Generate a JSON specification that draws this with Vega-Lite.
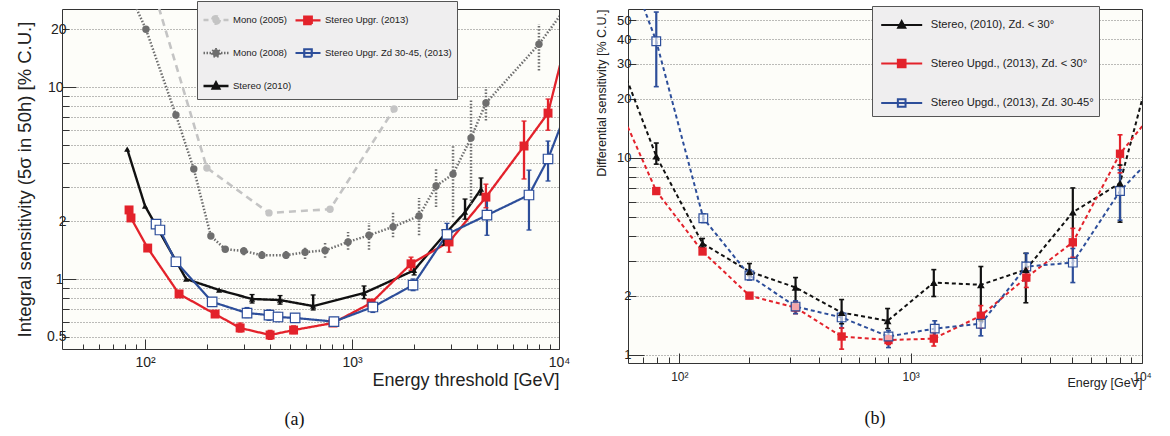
{
  "$schema": "https://vega.github.io/schema/vega-lite/v6.json",
  "background": "white",
  "padding": {"left": 15, "right": 0, "top": 0, "bottom": 0},
  "config": {
    "font": "Liberation Sans",
    "view": {"stroke": "#333333", "strokeWidth": 1, "fill": "#fdfdf9"},
    "axis": {"domain": false, "labelColor": "#222222", "titleColor": "#222222", "tickColor": "#333333", "gridColor": "#555555", "gridDash": [1, 2], "gridWidth": 0.8, "titleFontWeight": "normal", "labelFlush": false, "labelOverlap": false}
  },
  "resolve": {"scale": {"color": "independent", "stroke": "independent", "fill": "independent", "shape": "independent", "strokeDash": "independent", "strokeWidth": "independent"}},
  "spacing": 24,
  "datasets": {
    "a": [
      {"s": "Mono (2005)", "e": 100, "v": 45},
      {"s": "Mono (2005)", "e": 199, "v": 3.79},
      {"s": "Mono (2005)", "e": 397, "v": 2.21},
      {"s": "Mono (2005)", "e": 783, "v": 2.31},
      {"s": "Mono (2005)", "e": 1596, "v": 7.68},
      {"s": "Mono (2008)", "e": 87, "v": 28.5},
      {"s": "Mono (2008)", "e": 101, "v": 20},
      {"s": "Mono (2008)", "e": 141, "v": 7.15},
      {"s": "Mono (2008)", "e": 172, "v": 3.74},
      {"s": "Mono (2008)", "e": 208, "v": 1.675},
      {"s": "Mono (2008)", "e": 244, "v": 1.43},
      {"s": "Mono (2008)", "e": 300, "v": 1.4, "lo": 1.33, "hi": 1.47},
      {"s": "Mono (2008)", "e": 367, "v": 1.33, "lo": 1.27, "hi": 1.4},
      {"s": "Mono (2008)", "e": 480, "v": 1.33, "lo": 1.27, "hi": 1.4},
      {"s": "Mono (2008)", "e": 593, "v": 1.38, "lo": 1.27, "hi": 1.47},
      {"s": "Mono (2008)", "e": 741, "v": 1.41, "lo": 1.29, "hi": 1.54},
      {"s": "Mono (2008)", "e": 957, "v": 1.56, "lo": 1.42, "hi": 1.76},
      {"s": "Mono (2008)", "e": 1208, "v": 1.69, "lo": 1.42, "hi": 1.96},
      {"s": "Mono (2008)", "e": 1578, "v": 1.87, "lo": 1.65, "hi": 2.26},
      {"s": "Mono (2008)", "e": 2108, "v": 2.13, "lo": 1.69, "hi": 2.64},
      {"s": "Mono (2008)", "e": 2547, "v": 3.05, "lo": 2.37, "hi": 3.78},
      {"s": "Mono (2008)", "e": 3076, "v": 3.52, "lo": 2.1, "hi": 4.98},
      {"s": "Mono (2008)", "e": 3757, "v": 5.43, "lo": 2.45, "hi": 8.55},
      {"s": "Mono (2008)", "e": 4436, "v": 8.26, "lo": 6.7, "hi": 10.0},
      {"s": "Mono (2008)", "e": 8000, "v": 16.7, "lo": 12.2, "hi": 21.3},
      {"s": "Mono (2008)", "e": 11500, "v": 28.4},
      {"s": "Stereo (2010)", "e": 82, "v": 4.75},
      {"s": "Stereo (2010)", "e": 100, "v": 2.4},
      {"s": "Stereo (2010)", "e": 158, "v": 1.0},
      {"s": "Stereo (2010)", "e": 228, "v": 0.877},
      {"s": "Stereo (2010)", "e": 329, "v": 0.787, "lo": 0.75, "hi": 0.83},
      {"s": "Stereo (2010)", "e": 449, "v": 0.777, "lo": 0.74, "hi": 0.82},
      {"s": "Stereo (2010)", "e": 649, "v": 0.723, "lo": 0.69, "hi": 0.826},
      {"s": "Stereo (2010)", "e": 1143, "v": 0.845, "lo": 0.79, "hi": 0.92},
      {"s": "Stereo (2010)", "e": 1995, "v": 1.11, "lo": 1.05, "hi": 1.15},
      {"s": "Stereo (2010)", "e": 2780, "v": 1.69, "lo": 1.5, "hi": 1.8},
      {"s": "Stereo (2010)", "e": 3516, "v": 2.23, "lo": 2.05, "hi": 2.61},
      {"s": "Stereo (2010)", "e": 4200, "v": 2.94, "lo": 2.74, "hi": 3.36},
      {"s": "Stereo Upgr. (2013)", "e": 83.7, "v": 2.29},
      {"s": "Stereo Upgr. (2013)", "e": 85.5, "v": 2.08},
      {"s": "Stereo Upgr. (2013)", "e": 103, "v": 1.45},
      {"s": "Stereo Upgr. (2013)", "e": 146, "v": 0.836},
      {"s": "Stereo Upgr. (2013)", "e": 218, "v": 0.657},
      {"s": "Stereo Upgr. (2013)", "e": 288, "v": 0.556, "lo": 0.53, "hi": 0.59},
      {"s": "Stereo Upgr. (2013)", "e": 402, "v": 0.511, "lo": 0.485, "hi": 0.54},
      {"s": "Stereo Upgr. (2013)", "e": 522, "v": 0.542, "lo": 0.52, "hi": 0.57},
      {"s": "Stereo Upgr. (2013)", "e": 809, "v": 0.59, "lo": 0.575, "hi": 0.61},
      {"s": "Stereo Upgr. (2013)", "e": 1236, "v": 0.75, "lo": 0.72, "hi": 0.78},
      {"s": "Stereo Upgr. (2013)", "e": 1928, "v": 1.2, "lo": 1.11, "hi": 1.3},
      {"s": "Stereo Upgr. (2013)", "e": 2943, "v": 1.56, "lo": 1.38, "hi": 1.76},
      {"s": "Stereo Upgr. (2013)", "e": 4436, "v": 2.67, "lo": 2.35, "hi": 3.12},
      {"s": "Stereo Upgr. (2013)", "e": 6776, "v": 4.93, "lo": 3.32, "hi": 6.65},
      {"s": "Stereo Upgr. (2013)", "e": 8851, "v": 7.32, "lo": 5.96, "hi": 8.66},
      {"s": "Stereo Upgr. (2013)", "e": 11500, "v": 22.6},
      {"s": "Stereo Upgr. Zd 30-45, (2013)", "e": 113, "v": 1.93},
      {"s": "Stereo Upgr. Zd 30-45, (2013)", "e": 118, "v": 1.8},
      {"s": "Stereo Upgr. Zd 30-45, (2013)", "e": 141, "v": 1.23},
      {"s": "Stereo Upgr. Zd 30-45, (2013)", "e": 211, "v": 0.76},
      {"s": "Stereo Upgr. Zd 30-45, (2013)", "e": 311, "v": 0.665, "lo": 0.63, "hi": 0.71},
      {"s": "Stereo Upgr. Zd 30-45, (2013)", "e": 397, "v": 0.649, "lo": 0.61, "hi": 0.69},
      {"s": "Stereo Upgr. Zd 30-45, (2013)", "e": 439, "v": 0.634, "lo": 0.6, "hi": 0.67},
      {"s": "Stereo Upgr. Zd 30-45, (2013)", "e": 531, "v": 0.627, "lo": 0.6, "hi": 0.66},
      {"s": "Stereo Upgr. Zd 30-45, (2013)", "e": 818, "v": 0.6, "lo": 0.58, "hi": 0.63},
      {"s": "Stereo Upgr. Zd 30-45, (2013)", "e": 1261, "v": 0.715, "lo": 0.67, "hi": 0.76},
      {"s": "Stereo Upgr. Zd 30-45, (2013)", "e": 1972, "v": 0.93, "lo": 0.87, "hi": 1.0},
      {"s": "Stereo Upgr. Zd 30-45, (2013)", "e": 2877, "v": 1.71, "lo": 1.55, "hi": 1.95},
      {"s": "Stereo Upgr. Zd 30-45, (2013)", "e": 4487, "v": 2.15, "lo": 1.69, "hi": 2.58},
      {"s": "Stereo Upgr. Zd 30-45, (2013)", "e": 7160, "v": 2.74, "lo": 1.8, "hi": 3.69},
      {"s": "Stereo Upgr. Zd 30-45, (2013)", "e": 8851, "v": 4.22, "lo": 3.24, "hi": 5.23},
      {"s": "Stereo Upgr. Zd 30-45, (2013)", "e": 11500, "v": 8.8}
    ],
    "b": [
      {"s": "Stereo, (2010), Zd. < 30°", "e": 55, "v": 31.6},
      {"s": "Stereo, (2010), Zd. < 30°", "e": 79.5, "v": 10.2, "lo": 9.3, "hi": 11.9},
      {"s": "Stereo, (2010), Zd. < 30°", "e": 126, "v": 3.68, "lo": 3.5, "hi": 3.9},
      {"s": "Stereo, (2010), Zd. < 30°", "e": 201, "v": 2.65, "lo": 2.53, "hi": 2.91},
      {"s": "Stereo, (2010), Zd. < 30°", "e": 318, "v": 2.2, "lo": 1.84, "hi": 2.47},
      {"s": "Stereo, (2010), Zd. < 30°", "e": 503, "v": 1.64, "lo": 1.44, "hi": 1.91},
      {"s": "Stereo, (2010), Zd. < 30°", "e": 795, "v": 1.49, "lo": 1.36, "hi": 1.72},
      {"s": "Stereo, (2010), Zd. < 30°", "e": 1259, "v": 2.33, "lo": 1.98, "hi": 2.71},
      {"s": "Stereo, (2010), Zd. < 30°", "e": 2011, "v": 2.27, "lo": 1.49, "hi": 2.81},
      {"s": "Stereo, (2010), Zd. < 30°", "e": 3147, "v": 2.71, "lo": 1.84, "hi": 3.28},
      {"s": "Stereo, (2010), Zd. < 30°", "e": 5023, "v": 5.3, "lo": 3.68, "hi": 7.04},
      {"s": "Stereo, (2010), Zd. < 30°", "e": 8035, "v": 7.45, "lo": 4.72, "hi": 9.2},
      {"s": "Stereo, (2010), Zd. < 30°", "e": 11000, "v": 30},
      {"s": "Stereo Upgd., (2013), Zd. < 30°", "e": 55, "v": 18},
      {"s": "Stereo Upgd., (2013), Zd. < 30°", "e": 79.5, "v": 6.79},
      {"s": "Stereo Upgd., (2013), Zd. < 30°", "e": 126, "v": 3.35},
      {"s": "Stereo Upgd., (2013), Zd. < 30°", "e": 201, "v": 2.0},
      {"s": "Stereo Upgd., (2013), Zd. < 30°", "e": 318, "v": 1.74, "lo": 1.62, "hi": 1.86},
      {"s": "Stereo Upgd., (2013), Zd. < 30°", "e": 503, "v": 1.24, "lo": 1.07, "hi": 1.37},
      {"s": "Stereo Upgd., (2013), Zd. < 30°", "e": 802, "v": 1.19, "lo": 1.13, "hi": 1.25},
      {"s": "Stereo Upgd., (2013), Zd. < 30°", "e": 1259, "v": 1.21, "lo": 1.11, "hi": 1.3},
      {"s": "Stereo Upgd., (2013), Zd. < 30°", "e": 2011, "v": 1.58, "lo": 1.37, "hi": 1.78},
      {"s": "Stereo Upgd., (2013), Zd. < 30°", "e": 3162, "v": 2.47, "lo": 2.2, "hi": 2.74},
      {"s": "Stereo Upgd., (2013), Zd. < 30°", "e": 5023, "v": 3.73, "lo": 3.13, "hi": 4.39},
      {"s": "Stereo Upgd., (2013), Zd. < 30°", "e": 8035, "v": 10.5, "lo": 8.4, "hi": 13.1},
      {"s": "Stereo Upgd., (2013), Zd. < 30°", "e": 11000, "v": 16.6},
      {"s": "Stereo Upgd., (2013), Zd. 30-45°", "e": 55, "v": 125},
      {"s": "Stereo Upgd., (2013), Zd. 30-45°", "e": 79.5, "v": 39.1, "lo": 23.0, "hi": 55},
      {"s": "Stereo Upgd., (2013), Zd. 30-45°", "e": 127, "v": 4.94, "lo": 4.7, "hi": 5.2},
      {"s": "Stereo Upgd., (2013), Zd. 30-45°", "e": 201, "v": 2.53, "lo": 2.4, "hi": 2.7},
      {"s": "Stereo Upgd., (2013), Zd. 30-45°", "e": 318, "v": 1.76, "lo": 1.62, "hi": 1.88},
      {"s": "Stereo Upgd., (2013), Zd. 30-45°", "e": 503, "v": 1.55, "lo": 1.37, "hi": 1.64},
      {"s": "Stereo Upgd., (2013), Zd. 30-45°", "e": 802, "v": 1.24, "lo": 1.09, "hi": 1.33},
      {"s": "Stereo Upgd., (2013), Zd. 30-45°", "e": 1271, "v": 1.36, "lo": 1.25, "hi": 1.49},
      {"s": "Stereo Upgd., (2013), Zd. 30-45°", "e": 2011, "v": 1.44, "lo": 1.25, "hi": 1.64},
      {"s": "Stereo Upgd., (2013), Zd. 30-45°", "e": 3162, "v": 2.81, "lo": 2.38, "hi": 3.28},
      {"s": "Stereo Upgd., (2013), Zd. 30-45°", "e": 5023, "v": 2.94, "lo": 2.33, "hi": 3.47},
      {"s": "Stereo Upgd., (2013), Zd. 30-45°", "e": 8035, "v": 6.79, "lo": 4.83, "hi": 8.7},
      {"s": "Stereo Upgd., (2013), Zd. 30-45°", "e": 11000, "v": 10.0}
    ]
  },
  "hconcat": [
    {
      "width": 497,
      "height": 340,
      "data": {"name": "a"},
      "title": {"text": "(a)", "orient": "bottom", "font": "Liberation Serif", "fontSize": 18, "fontWeight": "normal", "color": "#111111", "offset": 22, "dx": -16},
      "encoding": {
        "x": {"field": "e", "type": "quantitative", "scale": {"type": "log", "domain": [39.7, 10000], "nice": false},
          "axis": {"title": "Energy threshold [GeV]", "titleFontSize": 18, "titleAnchor": "end", "titlePadding": -3,
            "values": [50, 60, 70, 80, 90, 100, 200, 300, 400, 500, 600, 700, 800, 900, 1000, 2000, 3000, 4000, 5000, 6000, 7000, 8000, 9000, 10000],
            "labelExpr": "datum.value==100?'10²':datum.value==1000?'10³':datum.value==10000?'10⁴':''",
            "labelFontSize": 14, "labelPadding": 16, "grid": false,
            "tickSize": {"condition": {"test": "datum.value==100||datum.value==1000||datum.value==10000", "value": -10}, "value": -5}}},
        "y": {"field": "v", "type": "quantitative", "scale": {"type": "log", "domain": [0.432, 25.5], "nice": false},
          "axis": {"title": "Integral sensitivity (5σ in 50h) [% C.U.]", "titleFontSize": 18.5, "titlePadding": 12,
            "values": [0.5, 0.6, 0.7, 0.8, 0.9, 1, 2, 3, 4, 5, 6, 7, 8, 9, 10, 20],
            "labelExpr": "indexof([0.5,1,2,10,20], datum.value) >= 0 ? format(datum.value, '~g') : ''",
            "labelFontSize": 14, "labelPadding": {"condition": {"test": "datum.value==1||datum.value==10", "value": 13}, "value": 3}, "grid": true,
            "tickSize": {"condition": {"test": "datum.value==1||datum.value==10", "value": -14}, "value": -7}}}
      },
      "layer": [
        {
          "transform": [{"filter": "false"}],
          "mark": {"type": "point", "opacity": 1},
          "encoding": {
            "shape": {"field": "s", "type": "nominal",
              "scale": {"domain": ["Mono (2005)", "Mono (2008)", "Stereo (2010)", "Stereo Upgr. (2013)", "Stereo Upgr. Zd 30-45, (2013)"],
                "range": ["M-1,0H-0.6M0.6,0H1M0.3,0A0.3,0.3,0,1,1,-0.3,0A0.3,0.3,0,1,1,0.3,0Z", "M-1,0H-0.88M-0.76,0H-0.64M-0.52,0H-0.4M0.4,0H0.52M0.64,0H0.76M0.88,0H1M0.3,0A0.3,0.3,0,1,1,-0.3,0A0.3,0.3,0,1,1,0.3,0Z", "M-1,0H1M0,-0.28L0.26,0.2H-0.26Z", "M-1,0H1M-0.3,-0.3H0.3V0.3H-0.3Z", "M-1,0H1M-0.3,-0.3H0.3V0.3H-0.3Z"]},
              "legend": {"disable": false, "title": null, "orient": "none", "legendX": 135, "legendY": -8, "columns": 2, "symbolSize": 625, "symbolStrokeWidth": 1.5, "symbolOpacity": 1, "labelFontSize": 9.5, "labelColor": "#222222", "labelOffset": 3, "labelLimit": 300, "padding": 5, "rowPadding": 10, "columnPadding": -2, "fillColor": "#efeeef", "strokeColor": "#555555"}},
            "stroke": {"field": "s", "type": "nominal",
              "scale": {"domain": ["Mono (2005)", "Mono (2008)", "Stereo (2010)", "Stereo Upgr. (2013)", "Stereo Upgr. Zd 30-45, (2013)"],
                "range": ["#c4c4c4", "#6e6e6e", "#111111", "#e3222b", "#2d4e9a"]},
              "legend": {"disable": false, "title": null, "orient": "none", "legendX": 135, "legendY": -8, "columns": 2, "symbolSize": 625, "symbolStrokeWidth": 1.5, "symbolOpacity": 1, "labelFontSize": 9.5, "labelColor": "#222222", "labelOffset": 3, "labelLimit": 300, "padding": 5, "rowPadding": 10, "columnPadding": -2, "fillColor": "#efeeef", "strokeColor": "#555555"}},
            "fill": {"field": "s", "type": "nominal",
              "scale": {"domain": ["Mono (2005)", "Mono (2008)", "Stereo (2010)", "Stereo Upgr. (2013)", "Stereo Upgr. Zd 30-45, (2013)"],
                "range": ["#c4c4c4", "#6e6e6e", "#111111", "#e3222b", "transparent"]},
              "legend": {"disable": false, "title": null, "orient": "none", "legendX": 135, "legendY": -8, "columns": 2, "symbolSize": 625, "symbolStrokeWidth": 1.5, "symbolOpacity": 1, "labelFontSize": 9.5, "labelColor": "#222222", "labelOffset": 3, "labelLimit": 300, "padding": 5, "rowPadding": 10, "columnPadding": -2, "fillColor": "#efeeef", "strokeColor": "#555555"}}
          }
        },
        {
          "mark": {"type": "line", "clip": true},
          "encoding": {
            "color": {"field": "s", "type": "nominal", "legend": null, "scale": {"domain": ["Mono (2005)", "Mono (2008)", "Stereo (2010)", "Stereo Upgr. (2013)", "Stereo Upgr. Zd 30-45, (2013)"], "range": ["#c4c4c4", "#6e6e6e", "#111111", "#e3222b", "#2d4e9a"]}},
            "strokeDash": {"field": "s", "type": "nominal", "legend": null, "scale": {"domain": ["Mono (2005)", "Mono (2008)", "Stereo (2010)", "Stereo Upgr. (2013)", "Stereo Upgr. Zd 30-45, (2013)"], "range": [[7, 5], [1.5, 1.8], [1, 0], [1, 0], [1, 0]]}},
            "strokeWidth": {"field": "s", "type": "nominal", "legend": null, "scale": {"domain": ["Mono (2005)", "Mono (2008)", "Stereo (2010)", "Stereo Upgr. (2013)", "Stereo Upgr. Zd 30-45, (2013)"], "range": [2.6, 2.2, 1.5, 1.6, 1.4]}}
          }
        },
        {
          "transform": [{"filter": "isValid(datum.lo)"}],
          "mark": {"type": "rule", "clip": true},
          "encoding": {
            "y": {"field": "lo", "type": "quantitative", "scale": {"type": "log"}},
            "y2": {"field": "hi"},
            "color": {"field": "s", "type": "nominal", "legend": null, "scale": {"domain": ["Mono (2005)", "Mono (2008)", "Stereo (2010)", "Stereo Upgr. (2013)", "Stereo Upgr. Zd 30-45, (2013)"], "range": ["#c4c4c4", "#6e6e6e", "#111111", "#e3222b", "#2d4e9a"]}},
            "strokeDash": {"field": "s", "type": "nominal", "legend": null, "scale": {"domain": ["Mono (2005)", "Mono (2008)", "Stereo (2010)", "Stereo Upgr. (2013)", "Stereo Upgr. Zd 30-45, (2013)"], "range": [[7, 5], [1.5, 1.8], [1, 0], [1, 0], [1, 0]]}},
            "strokeWidth": {"field": "s", "type": "nominal", "legend": null, "scale": {"domain": ["Mono (2005)", "Mono (2008)", "Stereo (2010)", "Stereo Upgr. (2013)", "Stereo Upgr. Zd 30-45, (2013)"], "range": [2.6, 2.2, 1.5, 1.6, 1.4]}}
          }
        },
        {
          "transform": [{"filter": "isValid(datum.lo) && datum.s != 'Mono (2008)'"}],
          "mark": {"type": "tick", "orient": "horizontal", "size": 5, "thickness": 1.3, "opacity": 1, "clip": true},
          "encoding": {
            "y": {"field": "lo", "type": "quantitative", "scale": {"type": "log"}},
            "color": {"field": "s", "type": "nominal", "legend": null, "scale": {"domain": ["Mono (2005)", "Mono (2008)", "Stereo (2010)", "Stereo Upgr. (2013)", "Stereo Upgr. Zd 30-45, (2013)"], "range": ["#c4c4c4", "#6e6e6e", "#111111", "#e3222b", "#2d4e9a"]}}
          }
        },
        {
          "transform": [{"filter": "isValid(datum.lo) && datum.s != 'Mono (2008)'"}],
          "mark": {"type": "tick", "orient": "horizontal", "size": 5, "thickness": 1.3, "opacity": 1, "clip": true},
          "encoding": {
            "y": {"field": "hi", "type": "quantitative", "scale": {"type": "log"}},
            "color": {"field": "s", "type": "nominal", "legend": null, "scale": {"domain": ["Mono (2005)", "Mono (2008)", "Stereo (2010)", "Stereo Upgr. (2013)", "Stereo Upgr. Zd 30-45, (2013)"], "range": ["#c4c4c4", "#6e6e6e", "#111111", "#e3222b", "#2d4e9a"]}}
          }
        },
        {
          "transform": [{"filter": "datum.s == 'Mono (2005)' || datum.s == 'Mono (2008)'"}],
          "mark": {"type": "point", "shape": "circle", "filled": true, "size": 55, "opacity": 1, "clip": true},
          "encoding": {
            "color": {"field": "s", "type": "nominal", "legend": null, "scale": {"domain": ["Mono (2005)", "Mono (2008)", "Stereo (2010)", "Stereo Upgr. (2013)", "Stereo Upgr. Zd 30-45, (2013)"], "range": ["#c4c4c4", "#6e6e6e", "#111111", "#e3222b", "#2d4e9a"]}}
          }
        },
        {
          "transform": [{"filter": "datum.s == 'Stereo (2010)'"}],
          "mark": {"type": "point", "shape": "triangle-up", "filled": true, "size": 38, "opacity": 1, "clip": true},
          "encoding": {
            "color": {"field": "s", "type": "nominal", "legend": null, "scale": {"domain": ["Mono (2005)", "Mono (2008)", "Stereo (2010)", "Stereo Upgr. (2013)", "Stereo Upgr. Zd 30-45, (2013)"], "range": ["#c4c4c4", "#6e6e6e", "#111111", "#e3222b", "#2d4e9a"]}}
          }
        },
        {
          "transform": [{"filter": "datum.s == 'Stereo Upgr. (2013)'"}],
          "mark": {"type": "point", "shape": "square", "filled": true, "size": 80, "opacity": 1, "clip": true},
          "encoding": {
            "color": {"field": "s", "type": "nominal", "legend": null, "scale": {"domain": ["Mono (2005)", "Mono (2008)", "Stereo (2010)", "Stereo Upgr. (2013)", "Stereo Upgr. Zd 30-45, (2013)"], "range": ["#c4c4c4", "#6e6e6e", "#111111", "#e3222b", "#2d4e9a"]}}
          }
        },
        {
          "transform": [{"filter": "datum.s == 'Stereo Upgr. Zd 30-45, (2013)'"}],
          "mark": {"type": "point", "shape": "square", "filled": false, "fill": "#ffffff", "strokeWidth": 1.2, "size": 90, "opacity": 1, "clip": true},
          "encoding": {
            "color": {"field": "s", "type": "nominal", "legend": null, "scale": {"domain": ["Mono (2005)", "Mono (2008)", "Stereo (2010)", "Stereo Upgr. (2013)", "Stereo Upgr. Zd 30-45, (2013)"], "range": ["#c4c4c4", "#6e6e6e", "#111111", "#e3222b", "#2d4e9a"]}}
          }
        }
      ]
    },
    {
      "width": 514,
      "height": 354,
      "data": {"name": "b"},
      "title": {"text": "(b)", "orient": "bottom", "font": "Liberation Serif", "fontSize": 18, "fontWeight": "normal", "color": "#111111", "offset": 21, "dx": -10},
      "encoding": {
        "x": {"field": "e", "type": "quantitative", "scale": {"type": "log", "domain": [60, 10000], "nice": false},
          "axis": {"title": "Energy [GeV]", "titleFontSize": 12.5, "titleAnchor": "end", "titlePadding": -10,
            "values": [70, 80, 90, 100, 200, 300, 400, 500, 600, 700, 800, 900, 1000, 2000, 3000, 4000, 5000, 6000, 7000, 8000, 9000, 10000],
            "labelExpr": "datum.value==100?'10²':datum.value==1000?'10³':datum.value==10000?'10⁴':''",
            "labelFontSize": 12, "labelPadding": 18, "grid": false,
            "tickSize": {"condition": {"test": "datum.value==100||datum.value==1000||datum.value==10000", "value": -10}, "value": -6}}},
        "y": {"field": "v", "type": "quantitative", "scale": {"type": "log", "domain": [0.91, 57], "nice": false},
          "axis": {"title": "Differential sensitivity [% C.U.]", "titleFontSize": 12.5, "titleAnchor": "end", "titlePadding": 8,
            "values": [1, 2, 3, 4, 5, 6, 7, 8, 9, 10, 20, 30, 40, 50],
            "labelExpr": "indexof([1,2,10,20,30,40,50], datum.value) >= 0 ? format(datum.value, '~g') : ''",
            "labelFontSize": 13, "labelPadding": {"condition": {"test": "datum.value==1||datum.value==10", "value": 13}, "value": 5}, "grid": true,
            "tickSize": {"condition": {"test": "datum.value==1||datum.value==10", "value": -16}, "value": -8}}}
      },
      "layer": [
        {
          "transform": [{"filter": "false"}],
          "mark": {"type": "point", "opacity": 1},
          "encoding": {
            "shape": {"field": "s", "type": "nominal",
              "scale": {"domain": ["Stereo, (2010), Zd. < 30°", "Stereo Upgd., (2013), Zd. < 30°", "Stereo Upgd., (2013), Zd. 30-45°"],
                "range": ["M-1.6,0H1.6M0,-0.3L0.28,0.22H-0.28Z", "M-1.6,0H1.6M-0.3,-0.3H0.3V0.3H-0.3Z", "M-1.6,0H1.6M-0.3,-0.3H0.3V0.3H-0.3Z"]},
              "legend": {"disable": false, "title": null, "orient": "none", "legendX": 244, "legendY": -3, "columns": 1, "symbolSize": 656, "symbolStrokeWidth": 2, "symbolOpacity": 1, "symbolOffset": 10.7, "labelFontSize": 11.2, "labelColor": "#222222", "labelOffset": 15, "labelLimit": 400, "padding": 5, "rowPadding": 17.5, "fillColor": "#efeeef", "strokeColor": "#555555"}},
            "stroke": {"field": "s", "type": "nominal",
              "scale": {"domain": ["Stereo, (2010), Zd. < 30°", "Stereo Upgd., (2013), Zd. < 30°", "Stereo Upgd., (2013), Zd. 30-45°"], "range": ["#111111", "#e3222b", "#2d4e9a"]},
              "legend": {"disable": false, "title": null, "orient": "none", "legendX": 244, "legendY": -3, "columns": 1, "symbolSize": 656, "symbolStrokeWidth": 2, "symbolOpacity": 1, "symbolOffset": 10.7, "labelFontSize": 11.2, "labelColor": "#222222", "labelOffset": 15, "labelLimit": 400, "padding": 5, "rowPadding": 17.5, "fillColor": "#efeeef", "strokeColor": "#555555"}},
            "fill": {"field": "s", "type": "nominal",
              "scale": {"domain": ["Stereo, (2010), Zd. < 30°", "Stereo Upgd., (2013), Zd. < 30°", "Stereo Upgd., (2013), Zd. 30-45°"], "range": ["#111111", "#e3222b", "transparent"]},
              "legend": {"disable": false, "title": null, "orient": "none", "legendX": 244, "legendY": -3, "columns": 1, "symbolSize": 656, "symbolStrokeWidth": 2, "symbolOpacity": 1, "symbolOffset": 10.7, "labelFontSize": 11.2, "labelColor": "#222222", "labelOffset": 15, "labelLimit": 400, "padding": 5, "rowPadding": 17.5, "fillColor": "#efeeef", "strokeColor": "#555555"}}
          }
        },
        {
          "mark": {"type": "line", "clip": true, "strokeWidth": 2, "strokeDash": [4, 3]},
          "encoding": {
            "color": {"field": "s", "type": "nominal", "legend": null, "scale": {"domain": ["Stereo, (2010), Zd. < 30°", "Stereo Upgd., (2013), Zd. < 30°", "Stereo Upgd., (2013), Zd. 30-45°"], "range": ["#111111", "#e3222b", "#2d4e9a"]}}
          }
        },
        {
          "transform": [{"filter": "isValid(datum.lo)"}],
          "mark": {"type": "rule", "clip": true, "strokeWidth": 2.2},
          "encoding": {
            "y": {"field": "lo", "type": "quantitative", "scale": {"type": "log"}},
            "y2": {"field": "hi"},
            "color": {"field": "s", "type": "nominal", "legend": null, "scale": {"domain": ["Stereo, (2010), Zd. < 30°", "Stereo Upgd., (2013), Zd. < 30°", "Stereo Upgd., (2013), Zd. 30-45°"], "range": ["#111111", "#e3222b", "#2d4e9a"]}}
          }
        },
        {
          "transform": [{"filter": "isValid(datum.lo)"}],
          "mark": {"type": "tick", "orient": "horizontal", "size": 5, "thickness": 1.6, "opacity": 1, "clip": true},
          "encoding": {
            "y": {"field": "lo", "type": "quantitative", "scale": {"type": "log"}},
            "color": {"field": "s", "type": "nominal", "legend": null, "scale": {"domain": ["Stereo, (2010), Zd. < 30°", "Stereo Upgd., (2013), Zd. < 30°", "Stereo Upgd., (2013), Zd. 30-45°"], "range": ["#111111", "#e3222b", "#2d4e9a"]}}
          }
        },
        {
          "transform": [{"filter": "isValid(datum.lo)"}],
          "mark": {"type": "tick", "orient": "horizontal", "size": 5, "thickness": 1.6, "opacity": 1, "clip": true},
          "encoding": {
            "y": {"field": "hi", "type": "quantitative", "scale": {"type": "log"}},
            "color": {"field": "s", "type": "nominal", "legend": null, "scale": {"domain": ["Stereo, (2010), Zd. < 30°", "Stereo Upgd., (2013), Zd. < 30°", "Stereo Upgd., (2013), Zd. 30-45°"], "range": ["#111111", "#e3222b", "#2d4e9a"]}}
          }
        },
        {
          "transform": [{"filter": "datum.s == 'Stereo Upgd., (2013), Zd. < 30°'"}],
          "mark": {"type": "point", "shape": "square", "filled": true, "size": 70, "opacity": 1, "clip": true},
          "encoding": {
            "color": {"field": "s", "type": "nominal", "legend": null, "scale": {"domain": ["Stereo, (2010), Zd. < 30°", "Stereo Upgd., (2013), Zd. < 30°", "Stereo Upgd., (2013), Zd. 30-45°"], "range": ["#111111", "#e3222b", "#2d4e9a"]}}
          }
        },
        {
          "transform": [{"filter": "datum.s == 'Stereo Upgd., (2013), Zd. 30-45°'"}],
          "mark": {"type": "point", "shape": "square", "filled": false, "fill": "#ffffff", "fillOpacity": 0.6, "strokeWidth": 1.2, "size": 75, "opacity": 1, "clip": true},
          "encoding": {
            "color": {"field": "s", "type": "nominal", "legend": null, "scale": {"domain": ["Stereo, (2010), Zd. < 30°", "Stereo Upgd., (2013), Zd. < 30°", "Stereo Upgd., (2013), Zd. 30-45°"], "range": ["#111111", "#e3222b", "#2d4e9a"]}}
          }
        },
        {
          "transform": [{"filter": "datum.s == 'Stereo, (2010), Zd. < 30°'"}],
          "mark": {"type": "point", "shape": "triangle-up", "filled": true, "size": 60, "opacity": 1, "clip": true},
          "encoding": {
            "color": {"field": "s", "type": "nominal", "legend": null, "scale": {"domain": ["Stereo, (2010), Zd. < 30°", "Stereo Upgd., (2013), Zd. < 30°", "Stereo Upgd., (2013), Zd. 30-45°"], "range": ["#111111", "#e3222b", "#2d4e9a"]}}
          }
        }
      ]
    }
  ]
}
